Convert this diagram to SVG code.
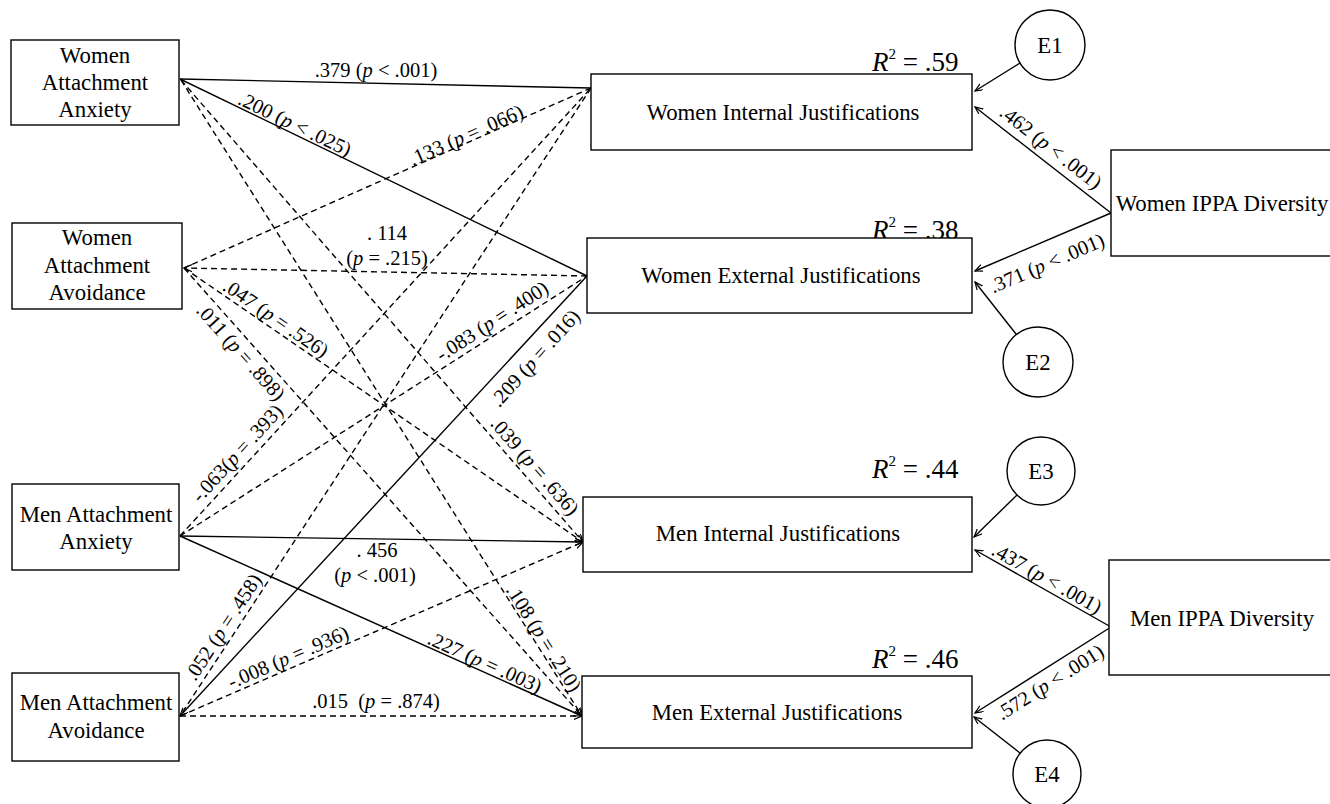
<svg xmlns="http://www.w3.org/2000/svg" width="1330" height="804" viewBox="0 0 1330 804">
<style>
text{font-family:"Liberation Serif","Times New Roman",serif;fill:#000}
.node{font-size:22.8px;text-anchor:middle}
.lbl{font-size:20.5px;text-anchor:middle}
.r2{font-size:27px}
.box{fill:#fff;stroke:#000;stroke-width:1.4}
.circ{fill:#fff;stroke:#000;stroke-width:1.4}
.s{stroke:#000;stroke-width:1.4;fill:none}
.d{stroke:#000;stroke-width:1.4;fill:none;stroke-dasharray:6 4}
.i{font-style:italic}
</style>
<defs>
<marker id="ah" markerWidth="10" markerHeight="8" refX="8" refY="3.5" orient="auto" markerUnits="userSpaceOnUse">
<path d="M0,0 L8,3.5 L0,7" fill="none" stroke="#000" stroke-width="1.2"/>
</marker>
</defs>
<rect width="1330" height="804" fill="#fff"/>
<g id="connectors">
<line class="s" x1="180" y1="79" x2="591" y2="88"/>
<line class="s" x1="180" y1="79" x2="587" y2="276"/>
<line class="d" x1="181" y1="80" x2="583" y2="542" marker-end="url(#ah)"/>
<line class="d" x1="181" y1="80" x2="582" y2="716" marker-end="url(#ah)"/>
<line class="d" x1="591" y1="88" x2="184" y2="268"/>
<line class="d" x1="587" y1="276" x2="184" y2="268" marker-end="url(#ah)"/>
<line class="d" x1="184" y1="268" x2="583" y2="542" marker-end="url(#ah)"/>
<line class="d" x1="184" y1="268" x2="582" y2="716" marker-end="url(#ah)"/>
<line class="d" x1="180" y1="536" x2="591" y2="88"/>
<line class="d" x1="180" y1="536" x2="587" y2="276"/>
<line class="s" x1="180" y1="536" x2="583" y2="542" marker-end="url(#ah)"/>
<line class="s" x1="180" y1="536" x2="582" y2="716" marker-end="url(#ah)"/>
<line class="d" x1="591" y1="88" x2="180" y2="716"/>
<line class="s" x1="587" y1="276" x2="180" y2="716" marker-end="url(#ah)"/>
<line class="d" x1="180" y1="716" x2="583" y2="542" marker-end="url(#ah)"/>
<line class="d" x1="180" y1="716" x2="582" y2="716" marker-end="url(#ah)"/>
<line class="s" x1="1020" y1="63" x2="975" y2="91" marker-end="url(#ah)"/>
<line class="s" x1="1111" y1="213" x2="975" y2="107" marker-end="url(#ah)"/>
<line class="s" x1="1111" y1="213" x2="975" y2="271" marker-end="url(#ah)"/>
<line class="s" x1="1016" y1="334" x2="975" y2="282" marker-end="url(#ah)"/>
<line class="s" x1="1017" y1="495" x2="974" y2="537" marker-end="url(#ah)"/>
<line class="s" x1="1111" y1="627" x2="975" y2="550" marker-end="url(#ah)"/>
<line class="s" x1="1111" y1="627" x2="975" y2="713" marker-end="url(#ah)"/>
<line class="s" x1="1020" y1="753" x2="974" y2="717" marker-end="url(#ah)"/>
<g id="edge-labels">
<text class="lbl" x="376" y="77">.379 (<tspan class="i">p</tspan> &lt; .001)</text>
<text class="lbl" transform="translate(295,124) rotate(25.8)" y="7">.200 (<tspan class="i">p</tspan> &lt; .025)</text>
<text class="lbl" transform="translate(466,135) rotate(-23.8)" y="7">.133 (<tspan class="i">p</tspan> = .066)</text>
<text class="lbl" x="387" y="240">. 114</text>
<text class="lbl" x="387" y="265">(<tspan class="i">p</tspan> = .215)</text>
<text class="lbl" transform="translate(276,318) rotate(34.4)" y="7">.047 (<tspan class="i">p</tspan> = .526)</text>
<text class="lbl" transform="translate(241,352) rotate(48.3)" y="7">.011 (<tspan class="i">p</tspan> = .898)</text>
<text class="lbl" transform="translate(237,453) rotate(-47.5)" y="7">-.063(<tspan class="i">p</tspan> = .393)</text>
<text class="lbl" transform="translate(492,321) rotate(-33)" y="7">-.083 (<tspan class="i">p</tspan> = .400)</text>
<text class="lbl" transform="translate(535,358) rotate(-48)" y="7">.209 (<tspan class="i">p</tspan> = .016)</text>
<text class="lbl" transform="translate(535,466) rotate(49)" y="7">.039 (<tspan class="i">p</tspan> = .636)</text>
<text class="lbl" transform="translate(544,638) rotate(57.7)" y="7">.108 (<tspan class="i">p</tspan> = .210)</text>
<text class="lbl" x="377" y="557">. 456</text>
<text class="lbl" x="375" y="582">(<tspan class="i">p</tspan> &lt; .001)</text>
<text class="lbl" transform="translate(485,662) rotate(24.1)" y="7">.227 (<tspan class="i">p</tspan> = .003)</text>
<text class="lbl" transform="translate(223,627) rotate(-56.8)" y="7">.052 (<tspan class="i">p</tspan> = .458)</text>
<text class="lbl" transform="translate(288,657) rotate(-23.4)" y="7">-.008 (<tspan class="i">p</tspan> = .936)</text>
<text class="lbl" x="376" y="708" xml:space="preserve">.015  (<tspan class="i">p</tspan> = .874)</text>
<text class="lbl" transform="translate(1051,147) rotate(37.9)" y="7">.462 (<tspan class="i">p</tspan> &lt; .001)</text>
<text class="lbl" transform="translate(1047,263) rotate(-23.1)" y="7">.371 (<tspan class="i">p</tspan> &lt; .001)</text>
<text class="lbl" transform="translate(1047,578) rotate(29.5)" y="7">.437 (<tspan class="i">p</tspan> &lt; .001)</text>
<text class="lbl" transform="translate(1050,682) rotate(-32.3)" y="7">.572 (<tspan class="i">p</tspan> &lt; .001)</text>
</g>
</g>
<g id="r2-labels">
<text class="r2" x="872" y="71"><tspan class="i">R</tspan><tspan font-size="15" dy="-12">2</tspan><tspan dy="12"> = .59</tspan></text>
<text class="r2" x="872" y="239"><tspan class="i">R</tspan><tspan font-size="15" dy="-12">2</tspan><tspan dy="12"> = .38</tspan></text>
<text class="r2" x="872" y="478"><tspan class="i">R</tspan><tspan font-size="15" dy="-12">2</tspan><tspan dy="12"> = .44</tspan></text>
<text class="r2" x="872" y="668"><tspan class="i">R</tspan><tspan font-size="15" dy="-12">2</tspan><tspan dy="12"> = .46</tspan></text>
</g>
<g id="women-attachment-anxiety">
<rect class="box" x="11" y="40" width="168" height="85"/>
<text class="node" x="95" y="63">Women</text>
<text class="node" x="95" y="90">Attachment</text>
<text class="node" x="95" y="117">Anxiety</text>
</g>
<g id="women-attachment-avoidance">
<rect class="box" x="12" y="223" width="170" height="86"/>
<text class="node" x="97" y="245">Women</text>
<text class="node" x="97" y="273">Attachment</text>
<text class="node" x="97" y="300">Avoidance</text>
</g>
<g id="men-attachment-anxiety">
<rect class="box" x="12" y="484" width="167" height="86"/>
<text class="node" x="96" y="522">Men Attachment</text>
<text class="node" x="96" y="549">Anxiety</text>
</g>
<g id="men-attachment-avoidance">
<rect class="box" x="12" y="673" width="167" height="88"/>
<text class="node" x="96" y="710">Men Attachment</text>
<text class="node" x="96" y="738">Avoidance</text>
</g>
<g id="women-internal-justifications">
<rect class="box" x="591" y="74" width="381" height="76"/>
<text class="node" x="783" y="120">Women Internal Justifications</text>
</g>
<g id="women-external-justifications">
<rect class="box" x="587" y="238" width="385" height="75"/>
<text class="node" x="781" y="283">Women External Justifications</text>
</g>
<g id="men-internal-justifications">
<rect class="box" x="583" y="497" width="389" height="75"/>
<text class="node" x="778" y="541">Men Internal Justifications</text>
</g>
<g id="men-external-justifications">
<rect class="box" x="582" y="676" width="390" height="72"/>
<text class="node" x="777" y="720">Men External Justifications</text>
</g>
<g id="women-ippa-diversity">
<rect class="box" x="1111" y="150" width="224" height="106"/>
<text class="node" x="1222" y="211">Women IPPA Diversity</text>
</g>
<g id="men-ippa-diversity">
<rect class="box" x="1109" y="560" width="226" height="115"/>
<text class="node" x="1222" y="626">Men IPPA Diversity</text>
</g>
<g id="e1">
<circle class="circ" cx="1050" cy="45" r="35"/>
<text class="node" x="1050" y="53">E1</text>
</g>
<g id="e2">
<circle class="circ" cx="1038" cy="362" r="35"/>
<text class="node" x="1038" y="370">E2</text>
</g>
<g id="e3">
<circle class="circ" cx="1041" cy="471" r="34"/>
<text class="node" x="1041" y="479">E3</text>
</g>
<g id="e4">
<circle class="circ" cx="1047" cy="774" r="34"/>
<text class="node" x="1047" y="782">E4</text>
</g>
</svg>
